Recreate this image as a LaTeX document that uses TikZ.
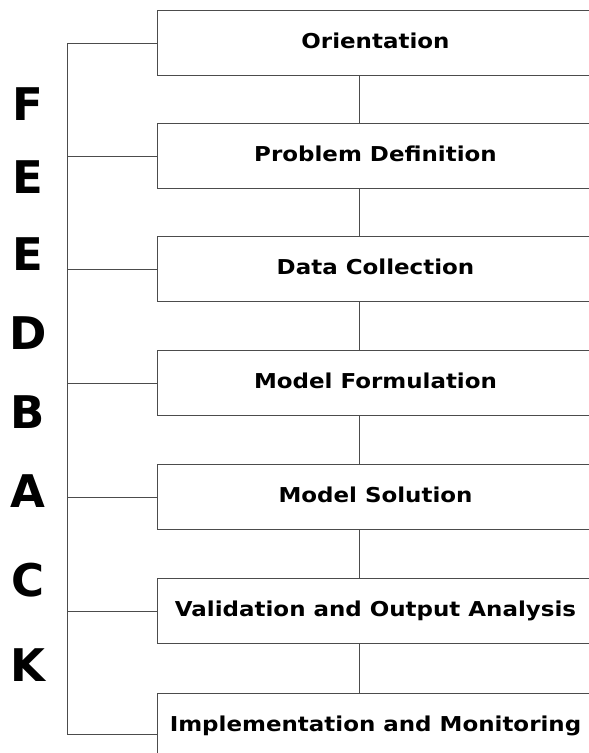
\documentclass[tikz,border=0pt]{standalone}
\usepackage{fontspec}
\setmainfont{DejaVu Sans}
\newfontfamily\etapafont[FakeStretch=1.12]{DejaVu Sans Bold}
\begin{document}
\begin{tikzpicture}[x=1pt,y=-1pt,
    etapa/.style={draw=black!70, line width=1pt, anchor=north west,
        minimum width=436pt, minimum height=65pt, inner sep=0pt,
        text height=15pt, text depth=5pt,
        font=\etapafont\fontsize{20.5}{24}\selectfont},
    enlace/.style={black!70, line width=1pt},
    letra/.style={font=\bfseries\fontsize{45}{50}\selectfont, inner sep=0pt}]
    \useasboundingbox (0,0) rectangle (589,753);
    \clip (0,0) rectangle (589,753);

    % Etapas del proceso
    \foreach \i/\y/\txt in {
        1/10/Orientation,
        2/123/Problem Definition,
        3/236/Data Collection,
        4/350/Model Formulation,
        5/464/Model Solution,
        6/578/Validation and Output Analysis,
        7/693/Implementation and Monitoring
    } {
        \node[etapa] (b\i) at (157,\y) {\txt};
    }

    % Uniones verticales entre etapas
    \coordinate (eje) at (359,0);
    \foreach \i/\j in {1/2,2/3,3/4,4/5,5/6,6/7} {
        \draw[enlace] (b\i.south -| eje) -- (b\j.north -| eje);
    }

    % Linea de retroalimentacion
    \coordinate (fb) at (67,43);
    \coordinate (fbfin) at (67,734);
    \draw[enlace] (fb) -- (fbfin) -- (fbfin -| b7.west);
    \foreach \i in {1,...,6} {
        \draw[enlace] (b\i.west -| fb) -- (b\i.west);
    }

    % Letras de FEEDBACK
    \foreach \k/\y/\c in {1/104/F, 2/177/E, 3/254/E, 4/333/D,
                          5/412/B, 6/491/A, 7/580/C, 8/665/K} {
        \node[letra] (l\k) at (28,\y) {\c};
    }
\end{tikzpicture}
\end{document}
